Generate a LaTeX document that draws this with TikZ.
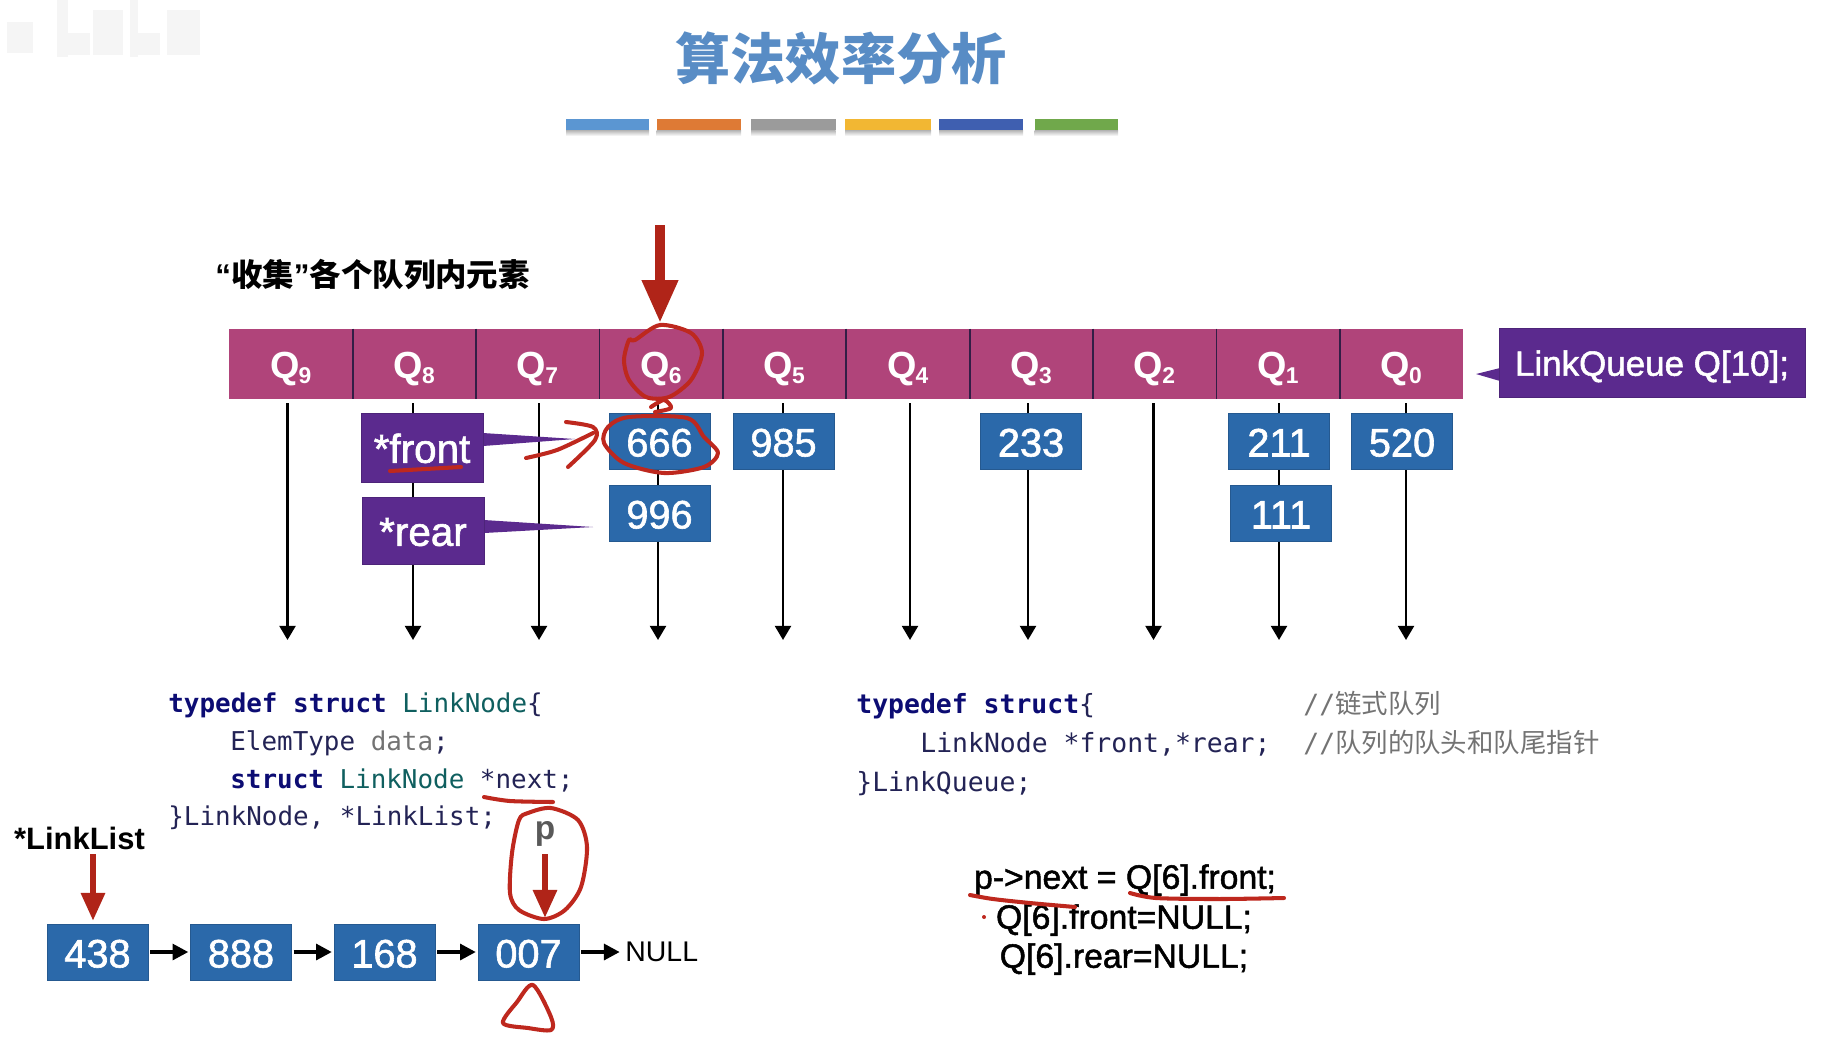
\documentclass[tikz,border=0pt]{standalone}
\usepackage{fontspec}
\setmainfont{Liberation Sans}
\setmonofont{DejaVu Sans Mono}
\newfontfamily\cjk{Noto Sans CJK SC}
\newfontfamily\medfont{Liberation Sans}[FakeBold=1.5]
\usetikzlibrary{arrows.meta}

\definecolor{titleblue}{RGB}{88,140,197}
\definecolor{cellpink}{RGB}{176,68,122}
\definecolor{cellline}{RGB}{50,30,70}
\definecolor{boxblue}{RGB}{43,105,170}
\definecolor{boxpurple}{RGB}{91,42,142}
\definecolor{handred}{RGB}{190,40,30}
\definecolor{arrowred}{RGB}{176,36,24}
\definecolor{kwnavy}{RGB}{12,12,115}
\definecolor{typeteal}{RGB}{15,95,95}
\definecolor{codeink}{RGB}{35,35,85}
\definecolor{notegray}{RGB}{115,115,115}
\definecolor{bara}{RGB}{91,150,210}
\definecolor{barb}{RGB}{222,122,53}
\definecolor{barc}{RGB}{155,155,155}
\definecolor{bard}{RGB}{242,183,51}
\definecolor{bare}{RGB}{63,95,176}
\definecolor{barf}{RGB}{112,168,75}

\newcommand{\qsub}[1]{{\kern-0.5pt\fontsize{13}{13}\selectfont\raisebox{-3pt}{#1}}}
\newcommand{\kw}[1]{{\bfseries\color{kwnavy}#1}}
\newcommand{\tp}[1]{{\color{typeteal}#1}}

\tikzset{
    qcell/.style={fill=cellpink, text=white, inner sep=0pt, text height=16.6pt, text depth=0pt,
        minimum width=2.468cm, minimum height=1.4cm, font=\fontsize{21.5}{26}\selectfont\bfseries},
    numbox/.style={draw=boxblue!85!black, line width=0.5pt, fill=boxblue, text=white, inner sep=0pt,
        text height=17.6pt, text depth=0pt,
        minimum width=2.02cm, minimum height=1.12cm, font=\fontsize{22.6}{26}\selectfont\medfont},
    ptrbox/.style={draw=boxpurple!85!black, line width=0.5pt, fill=boxpurple, text=white, inner sep=0pt,
        text height=17.4pt, text depth=0pt, font=\fontsize{23}{26}\selectfont\medfont},
    codeline/.style={anchor=base west, inner sep=0pt, text=codeink,
        font=\fontsize{14.75}{17}\selectfont\ttfamily},
    coderight/.style={codeline, font=\fontsize{15.05}{17}\selectfont\ttfamily},
    stmt/.style={inner sep=0pt, font=\fontsize{19.2}{22}\selectfont\medfont},
    qarrow/.style={-{Triangle[width=9pt,length=8pt]}, line width=1.5pt},
    listarrow/.style={-{Triangle[width=9pt,length=9pt]}, line width=2.1pt, shorten <=1pt, shorten >=1pt},
    redarrow/.style={-{Triangle[width=13pt,length=16pt]}, line width=3.7pt, color=arrowred},
    hand/.style={handred, line width=2.3pt, line cap=round, line join=round}
}

\begin{document}
\begin{tikzpicture}[x=0.02cm, y=-0.02cm]
    \useasboundingbox (0,0) rectangle (1825,1036);

    % 水印
    \foreach \xa/\ya/\xb/\yb in {7/22/33/53, 57/0/68/57, 68/33/90/55, 93/10/123/55, 130/0/138/57, 138/33/160/55, 167/10/200/55} {
        \fill[black!4] (\xa,\ya) rectangle (\xb,\yb);
    }

    % 标题
    \node[text=titleblue, font=\fontsize{31.4}{36}\selectfont\cjk\bfseries] (title) at (841,58) {算法效率分析};

    % 彩条
    \foreach \xa/\xb/\col in {566/649/bara, 656.5/741/barb, 751/835.5/barc, 845/931/bard, 939/1023/bare, 1034.5/1118/barf} {
        \shade[top color=black!30, bottom color=white] (\xa,130) rectangle (\xb,136);
        \fill[\col] (\xa,119) rectangle (\xb,130);
    }

    % 说明文字
    \node[anchor=west, inner sep=0pt, font=\fontsize{17.9}{22}\selectfont\bfseries] (collect) at (215,275) {“{\cjk\bfseries 收集}”{\cjk\bfseries 各个队列内元素}};

    % 竖线
    \foreach \idx/\lx in {9/287.5, 8/413, 7/539, 6/658, 5/783, 4/910, 3/1028, 2/1153.5, 1/1279, 0/1406} {
        \coordinate (top\idx) at (\lx,403);
        \coordinate (end\idx) at (\lx,640);
        \draw[qarrow] (top\idx) -- (end\idx);
    }

    % 队列头
    \foreach \idx/\cx in {9/290.7, 8/414.1, 7/537.5, 6/660.9, 5/784.3, 4/907.7, 3/1031.1, 2/1154.5, 1/1277.9, 0/1401.3} {
        \node[qcell] (q\idx) at (\cx,364) {Q\qsub{\idx}};
    }
    \foreach \idx in {9,8,7,6,5,4,3,2,1} {
        \draw[cellline, line width=1pt] (q\idx.north east) -- (q\idx.south east);
    }

    % 队列元素
    \node[numbox] (n666) at (659.5,441) {666};
    \node[numbox] (n996) at (659.5,513) {996};
    \node[numbox] (n985) at (783.5,441) {985};
    \node[numbox] (n233) at (1031,441) {233};
    \node[numbox] (n211) at (1279,441) {211};
    \node[numbox] (n111) at (1281,513) {111};
    \node[numbox] (n520) at (1402,441) {520};

    % 紫色标注
    \fill[boxpurple] (483,433) -- (575,439) -- (483,446) -- cycle;
    \fill[boxpurple] (484,520) -- (593,527) -- (484,533) -- cycle;
    \fill[boxpurple] (1500,368) -- (1476,374) -- (1500,381) -- cycle;
    \node[ptrbox, minimum width=2.44cm, minimum height=1.38cm] (front) at (422,447.5) {*front};
    \node[ptrbox, minimum width=2.44cm, minimum height=1.34cm] (rear) at (423,530.5) {*rear};
    \node[ptrbox, minimum width=6.12cm, minimum height=1.38cm, text height=17pt, text depth=2pt, font=\fontsize{19.9}{24}\selectfont\medfont] (linkqueue) at (1652,362.5) {LinkQueue Q[10];};

    % 左边代码
    \node[codeline] (lna) at (168,712) {\kw{typedef struct} \tp{LinkNode}\{};
    \node[codeline] (lnb) at (230,750) {ElemType {\color{notegray}data};};
    \node[codeline] (lnc) at (230,788) {\kw{struct} \tp{LinkNode} *next;};
    \node[codeline] (lnd) at (168,825) {\}LinkNode, *LinkList;};

    % 右边代码
    \node[coderight] (qua) at (856,713) {\kw{typedef struct}\{};
    \node[coderight] (qub) at (920,752) {LinkNode *front,*rear;};
    \node[coderight] (quc) at (856,791) {\}LinkQueue;};
    \node[coderight, text=notegray] (noa) at (1303,713) {//{\cjk 链式队列}};
    \node[coderight, text=notegray] (nob) at (1303,752) {//{\cjk 队列的队头和队尾指针}};

    % 语句
    \node[stmt] (stma) at (1125,880) {p->next = Q[6].front;};
    \node[stmt] (stmb) at (1124,920) {Q[6].front=NULL;};
    \node[stmt] (stmc) at (1124,959) {Q[6].rear=NULL;};

    % 链表
    \node[numbox] (n438) at (97.5,952) {438};
    \node[numbox] (n888) at (241,952) {888};
    \node[numbox] (n168) at (384.5,952) {168};
    \node[numbox] (n007) at (528.5,952) {007};
    \node[anchor=west, inner sep=0pt, font=\fontsize{16.2}{20}\selectfont] (null) at (625,952) {NULL};
    \draw[listarrow] (n438) -- (n888);
    \draw[listarrow] (n888) -- (n168);
    \draw[listarrow] (n168) -- (n007);
    \draw[listarrow, shorten >=3pt] (n007) -- (null);

    \node[inner sep=0pt, font=\fontsize{17.6}{21}\selectfont\bfseries] (linklist) at (79.5,838) {*LinkList};
    \node[inner sep=0pt, text=black!65, font=\fontsize{19}{22}\selectfont\bfseries] (p) at (545,834) {p};

    % 红色箭头
    \coordinate (topa) at (660,225);
    \coordinate (topb) at (660,323);
    \coordinate (lista) at (93,854);
    \coordinate (listb) at (93,921);
    \coordinate (pa) at (545,854);
    \coordinate (pb) at (545,918);
    \draw[redarrow, line width=5.7pt, -{Triangle[width=19.3pt,length=24.4pt]}] (topa) -- (topb);
    \draw[redarrow] (lista) -- (listb);
    \draw[redarrow] (pa) -- (pb);

    % 手写红笔
    \draw[hand] plot[smooth cycle] coordinates {(635,340) (660,325) (691,333) (702,353) (691,380) (669,397) (646,397) (629,380) (624,360) (629,340)};
    \draw[hand] plot[smooth] coordinates {(651,407) (664,400) (671,408) (655,412)};
    \draw[hand] plot[smooth cycle] coordinates {(629,417) (687,418) (704,437) (718,453) (704,467) (664,473) (624,463) (604,443) (608,427)};
    \draw[hand] plot[smooth] coordinates {(526,458) (557,450) (593,433)};
    \draw[hand] plot[smooth] coordinates {(566,422) (593,427) (595,440) (568,467)};
    \draw[hand] (390,471) -- (461,467);
    \draw[hand] plot[smooth] coordinates {(484,797) (510,801) (553,802)};
    \draw[hand] plot[smooth cycle] coordinates {(528,813) (551,808) (578,820) (587,847) (581,887) (565,910) (544,919) (519,910) (510,893) (512,853) (519,820)};
    \draw[hand] plot[smooth cycle] coordinates {(533,985) (551,1017) (551,1030) (528,1028) (503,1023) (517,1002)};
    \draw[hand] plot[smooth] coordinates {(970,895) (993,899) (1030,903) (1075,907)};
    \draw[hand] plot[smooth] coordinates {(1130,893) (1156,898) (1220,899) (1284,898)};
    \fill[handred] (984,917) circle (2);
\end{tikzpicture}
\end{document}
